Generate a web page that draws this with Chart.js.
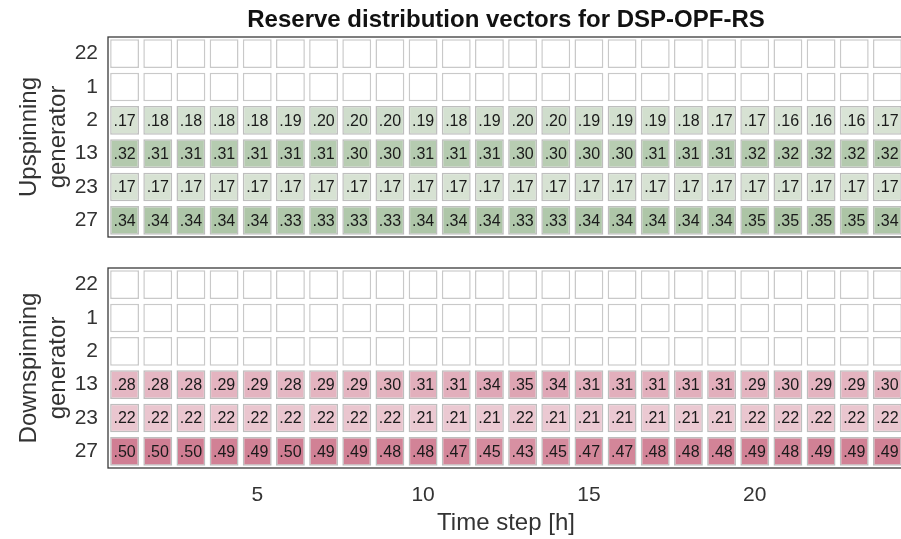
<!DOCTYPE html>
<html>
<head>
<meta charset="utf-8">
<script src="https://cdn.jsdelivr.net/npm/chart.js@4/dist/chart.umd.min.js"></script>
<style>
  html, body { margin: 0; padding: 0; background: #fff; overflow: hidden; }
  #wrap { position: relative; width: 901px; height: 539px; overflow: hidden; }
  canvas { position: absolute; left: 0; }
</style>
</head>
<body>
<div id="wrap">
  <canvas id="upChart" width="920" height="245" style="top:0"></canvas>
  <canvas id="downChart" width="920" height="289" style="top:250px"></canvas>
</div>
<script>
// time steps 1..24
const timeSteps = ['1','2','3','4','5','6','7','8','9','10','11','12',
                   '13','14','15','16','17','18','19','20','21','22','23','24'];
const generators = ['22', '1', '2', '13', '23', '27'];

// upspinning reserve shares (rows in generator order)
const up22 = [0,0,0,0,0,0,0,0,0,0,0,0,0,0,0,0,0,0,0,0,0,0,0,0];
const up1  = [0,0,0,0,0,0,0,0,0,0,0,0,0,0,0,0,0,0,0,0,0,0,0,0];
const up2  = [.17,.18,.18,.18,.18,.19,.20,.20,.20,.19,.18,.19,.20,.20,.19,.19,.19,.18,.17,.17,.16,.16,.16,.17];
const up13 = [.32,.31,.31,.31,.31,.31,.31,.30,.30,.31,.31,.31,.30,.30,.30,.30,.31,.31,.31,.32,.32,.32,.32,.32];
const up23 = [.17,.17,.17,.17,.17,.17,.17,.17,.17,.17,.17,.17,.17,.17,.17,.17,.17,.17,.17,.17,.17,.17,.17,.17];
const up27 = [.34,.34,.34,.34,.34,.33,.33,.33,.33,.34,.34,.34,.33,.33,.34,.34,.34,.34,.34,.35,.35,.35,.35,.34];

// downspinning reserve shares
const down22 = [0,0,0,0,0,0,0,0,0,0,0,0,0,0,0,0,0,0,0,0,0,0,0,0];
const down1  = [0,0,0,0,0,0,0,0,0,0,0,0,0,0,0,0,0,0,0,0,0,0,0,0];
const down2  = [0,0,0,0,0,0,0,0,0,0,0,0,0,0,0,0,0,0,0,0,0,0,0,0];
const down13 = [.28,.28,.28,.29,.29,.28,.29,.29,.30,.31,.31,.34,.35,.34,.31,.31,.31,.31,.31,.29,.30,.29,.29,.30];
const down23 = [.22,.22,.22,.22,.22,.22,.22,.22,.22,.21,.21,.21,.22,.21,.21,.21,.21,.21,.21,.22,.22,.22,.22,.22];
const down27 = [.50,.50,.50,.49,.49,.50,.49,.49,.48,.48,.47,.45,.43,.45,.47,.47,.48,.48,.48,.49,.48,.49,.49,.49];

const upRows = [up22, up1, up2, up13, up23, up27];
const downRows = [down22, down1, down2, down13, down23, down27];

const FONT = "'Liberation Sans', Arial, Helvetica, sans-serif";
const GREEN = [136, 171, 127];
const PINK = [208, 126, 147];

function cellColor(v, base) {
  if (!v) return '#ffffff';
  let a = Math.min(v / 0.5, 1);
  let c = base.map(b => Math.round(255 - a * (255 - b)));
  return 'rgb(' + c.join(',') + ')';
}

function buildDatasets(rows, base) {
  return rows.map(function(vals, i) {
    return {
      label: generators[i],
      values: vals,
      data: vals.map(() => [i + 1 - 0.43, i + 1 + 0.43]),
      backgroundColor: vals.map(v => cellColor(v, base)),
      borderColor: vals.map(v => v ? 'rgba(110,110,110,0.45)' : '#c9c9c9'),
      borderWidth: 1.5,
      borderSkipped: false,
      barPercentage: 0.87,
      categoryPercentage: 1.0,
      grouped: false
    };
  });
}

// writes the share into each cell and draws the axes box
const cellLabels = {
  id: 'cellLabels',
  afterDatasetsDraw(chart) {
    let ctx = chart.ctx;
    ctx.save();
    ctx.font = '16px ' + FONT;
    ctx.fillStyle = '#1a1a1a';
    ctx.textAlign = 'center';
    ctx.textBaseline = 'middle';
    chart.data.datasets.forEach(function(ds, di) {
      let meta = chart.getDatasetMeta(di);
      meta.data.forEach(function(bar, j) {
        let v = ds.values[j];
        if (!v) return;
        let p = bar.getCenterPoint();
        ctx.fillText(v.toFixed(2).replace(/^0/, ''), p.x, p.y + 1);
      });
    });
    let a = chart.chartArea;
    ctx.strokeStyle = '#3a3a3a';
    ctx.lineWidth = 1.3;
    ctx.strokeRect(a.left, a.top, a.right - a.left, a.bottom - a.top);
    ctx.restore();
  }
};

function makeOptions(yTitle, showX, showTitle, pad) {
  return {
    responsive: false,
    animation: false,
    layout: { padding: pad },
    plugins: {
      legend: { display: false },
      tooltip: { enabled: false },
      title: {
        display: showTitle,
        fullSize: false,
        text: 'Reserve distribution vectors for DSP-OPF-RS',
        color: '#111',
        font: { family: FONT, size: 24, weight: 'bold' },
        padding: { top: 6, bottom: 2.2 }
      }
    },
    scales: {
      x: {
        type: 'category',
        display: showX,
        offset: true,
        grid: { display: false, drawTicks: false },
        border: { display: false },
        afterFit: function(scale) { scale.height = showX ? 70 : 0; },
        ticks: {
          display: showX,
          autoSkip: false,
          maxRotation: 0,
          padding: 15,
          color: '#333',
          font: { family: FONT, size: 21 },
          callback: function(val, idx) { return (idx + 1) % 5 === 0 ? timeSteps[idx] : ''; }
        },
        title: {
          display: showX,
          text: 'Time step [h]',
          color: '#333',
          font: { family: FONT, size: 24 },
          padding: { top: 0, bottom: 0 }
        }
      },
      y: {
        type: 'linear',
        reverse: true,
        min: 0.5,
        max: 6.5,
        grid: { display: false, drawTicks: false },
        border: { display: false },
        afterBuildTicks: function(scale) {
          scale.ticks = generators.map((g, i) => ({ value: i + 1 }));
        },
        afterFit: function(scale) {
          scale.width = 108;
          scale.paddingTop = 0;
          scale.paddingBottom = 0;
        },
        ticks: {
          padding: 10,
          color: '#333',
          font: { family: FONT, size: 21 },
          callback: function(val) { return generators[Math.round(val) - 1]; }
        },
        title: {
          display: true,
          text: yTitle,
          color: '#333',
          font: { family: FONT, size: 24 },
          padding: { top: 15, bottom: 0 }
        }
      }
    }
  };
}

new Chart(document.getElementById('upChart'), {
  type: 'bar',
  data: { labels: timeSteps, datasets: buildDatasets(upRows, GREEN) },
  options: makeOptions(['Upspinning', 'generator'], false, true,
    { left: 0, right: 16, top: 0, bottom: 8 }),
  plugins: [cellLabels]
});

new Chart(document.getElementById('downChart'), {
  type: 'bar',
  data: { labels: timeSteps, datasets: buildDatasets(downRows, PINK) },
  options: makeOptions(['Downspinning', 'generator'], true, false,
    { left: 0, right: 16, top: 18, bottom: 1 }),
  plugins: [cellLabels]
});
</script>
</body>
</html>
